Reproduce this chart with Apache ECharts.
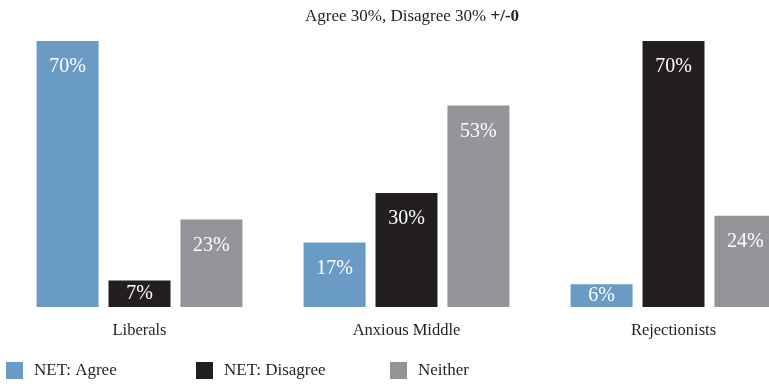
<!DOCTYPE html>
<html>
<head>
<meta charset="utf-8">
<script src="https://cdn.jsdelivr.net/npm/echarts@6/dist/echarts.min.js"></script>
<style>
html,body{margin:0;padding:0;background:#fff;}
#chart{width:769px;height:384px;}
</style>
</head>
<body>
<div id="chart"></div>
<script>
// Segments and answer shares (percent)
const categories = ['Liberals', 'Anxious Middle', 'Rejectionists'];
const netAgree = [70, 17, 6];
const netDisagree = [7, 30, 70];
const neither = [23, 53, 24];
const seriesNames = ['NET: Agree', 'NET: Disagree', 'Neither'];
const colors = ['#6a9bc5', '#231f20', '#939598'];

const FONT = '"Liberation Serif", "DejaVu Serif", serif';

const chart = echarts.init(document.getElementById('chart'));

// Short bars get their label centred; taller ones hang it from the top
function barSeries(name, data, color) {
  return {
    name: name,
    type: 'bar',
    data: data.map(v => v < 10
      ? { value: v, label: { position: 'inside' } }
      : { value: v }),
    barWidth: 62,
    barGap: '16%',
    itemStyle: { color: color },
    label: {
      show: true,
      position: 'insideTop',
      distance: 16,
      color: '#ffffff',
      fontFamily: FONT,
      fontSize: 20,
      formatter: p => p.value + '%'
    }
  };
}

const legendLefts = [6, 196, 390];

chart.setOption({
  animation: false,
  title: {
    text: '{n|Agree 30%, Disagree 30% }{b|+/-0}',
    left: 407,
    top: 3,
    textAlign: 'center',
    textStyle: {
      fontWeight: 'normal',
      rich: {
        n: { fontFamily: FONT, fontSize: 17, fontWeight: 'normal', color: '#231f20' },
        b: { fontFamily: FONT, fontSize: 17, fontWeight: 'bold', color: '#231f20' }
      }
    }
  },
  legend: seriesNames.map((n, i) => ({
    data: [n],
    left: legendLefts[i],
    top: 362,
    padding: 0,
    icon: 'rect',
    itemWidth: 17,
    itemHeight: 17,
    itemGap: 10,
    selectedMode: false,
    textStyle: { fontFamily: FONT, fontSize: 17, color: '#231f20', padding: [0, 0, 0, 6] }
  })),
  grid: { left: 6, top: 41, width: 801, height: 266, outerBoundsMode: 'none', containLabel: false },
  xAxis: {
    type: 'category',
    data: categories,
    axisLine: { show: false },
    axisTick: { show: false },
    axisLabel: { fontFamily: FONT, fontSize: 16.5, color: '#231f20', margin: 15 }
  },
  yAxis: {
    type: 'value',
    min: 0,
    max: 70,
    show: false
  },
  series: [
    barSeries(seriesNames[0], netAgree, colors[0]),
    barSeries(seriesNames[1], netDisagree, colors[1]),
    barSeries(seriesNames[2], neither, colors[2])
  ]
});
</script>
</body>
</html>
